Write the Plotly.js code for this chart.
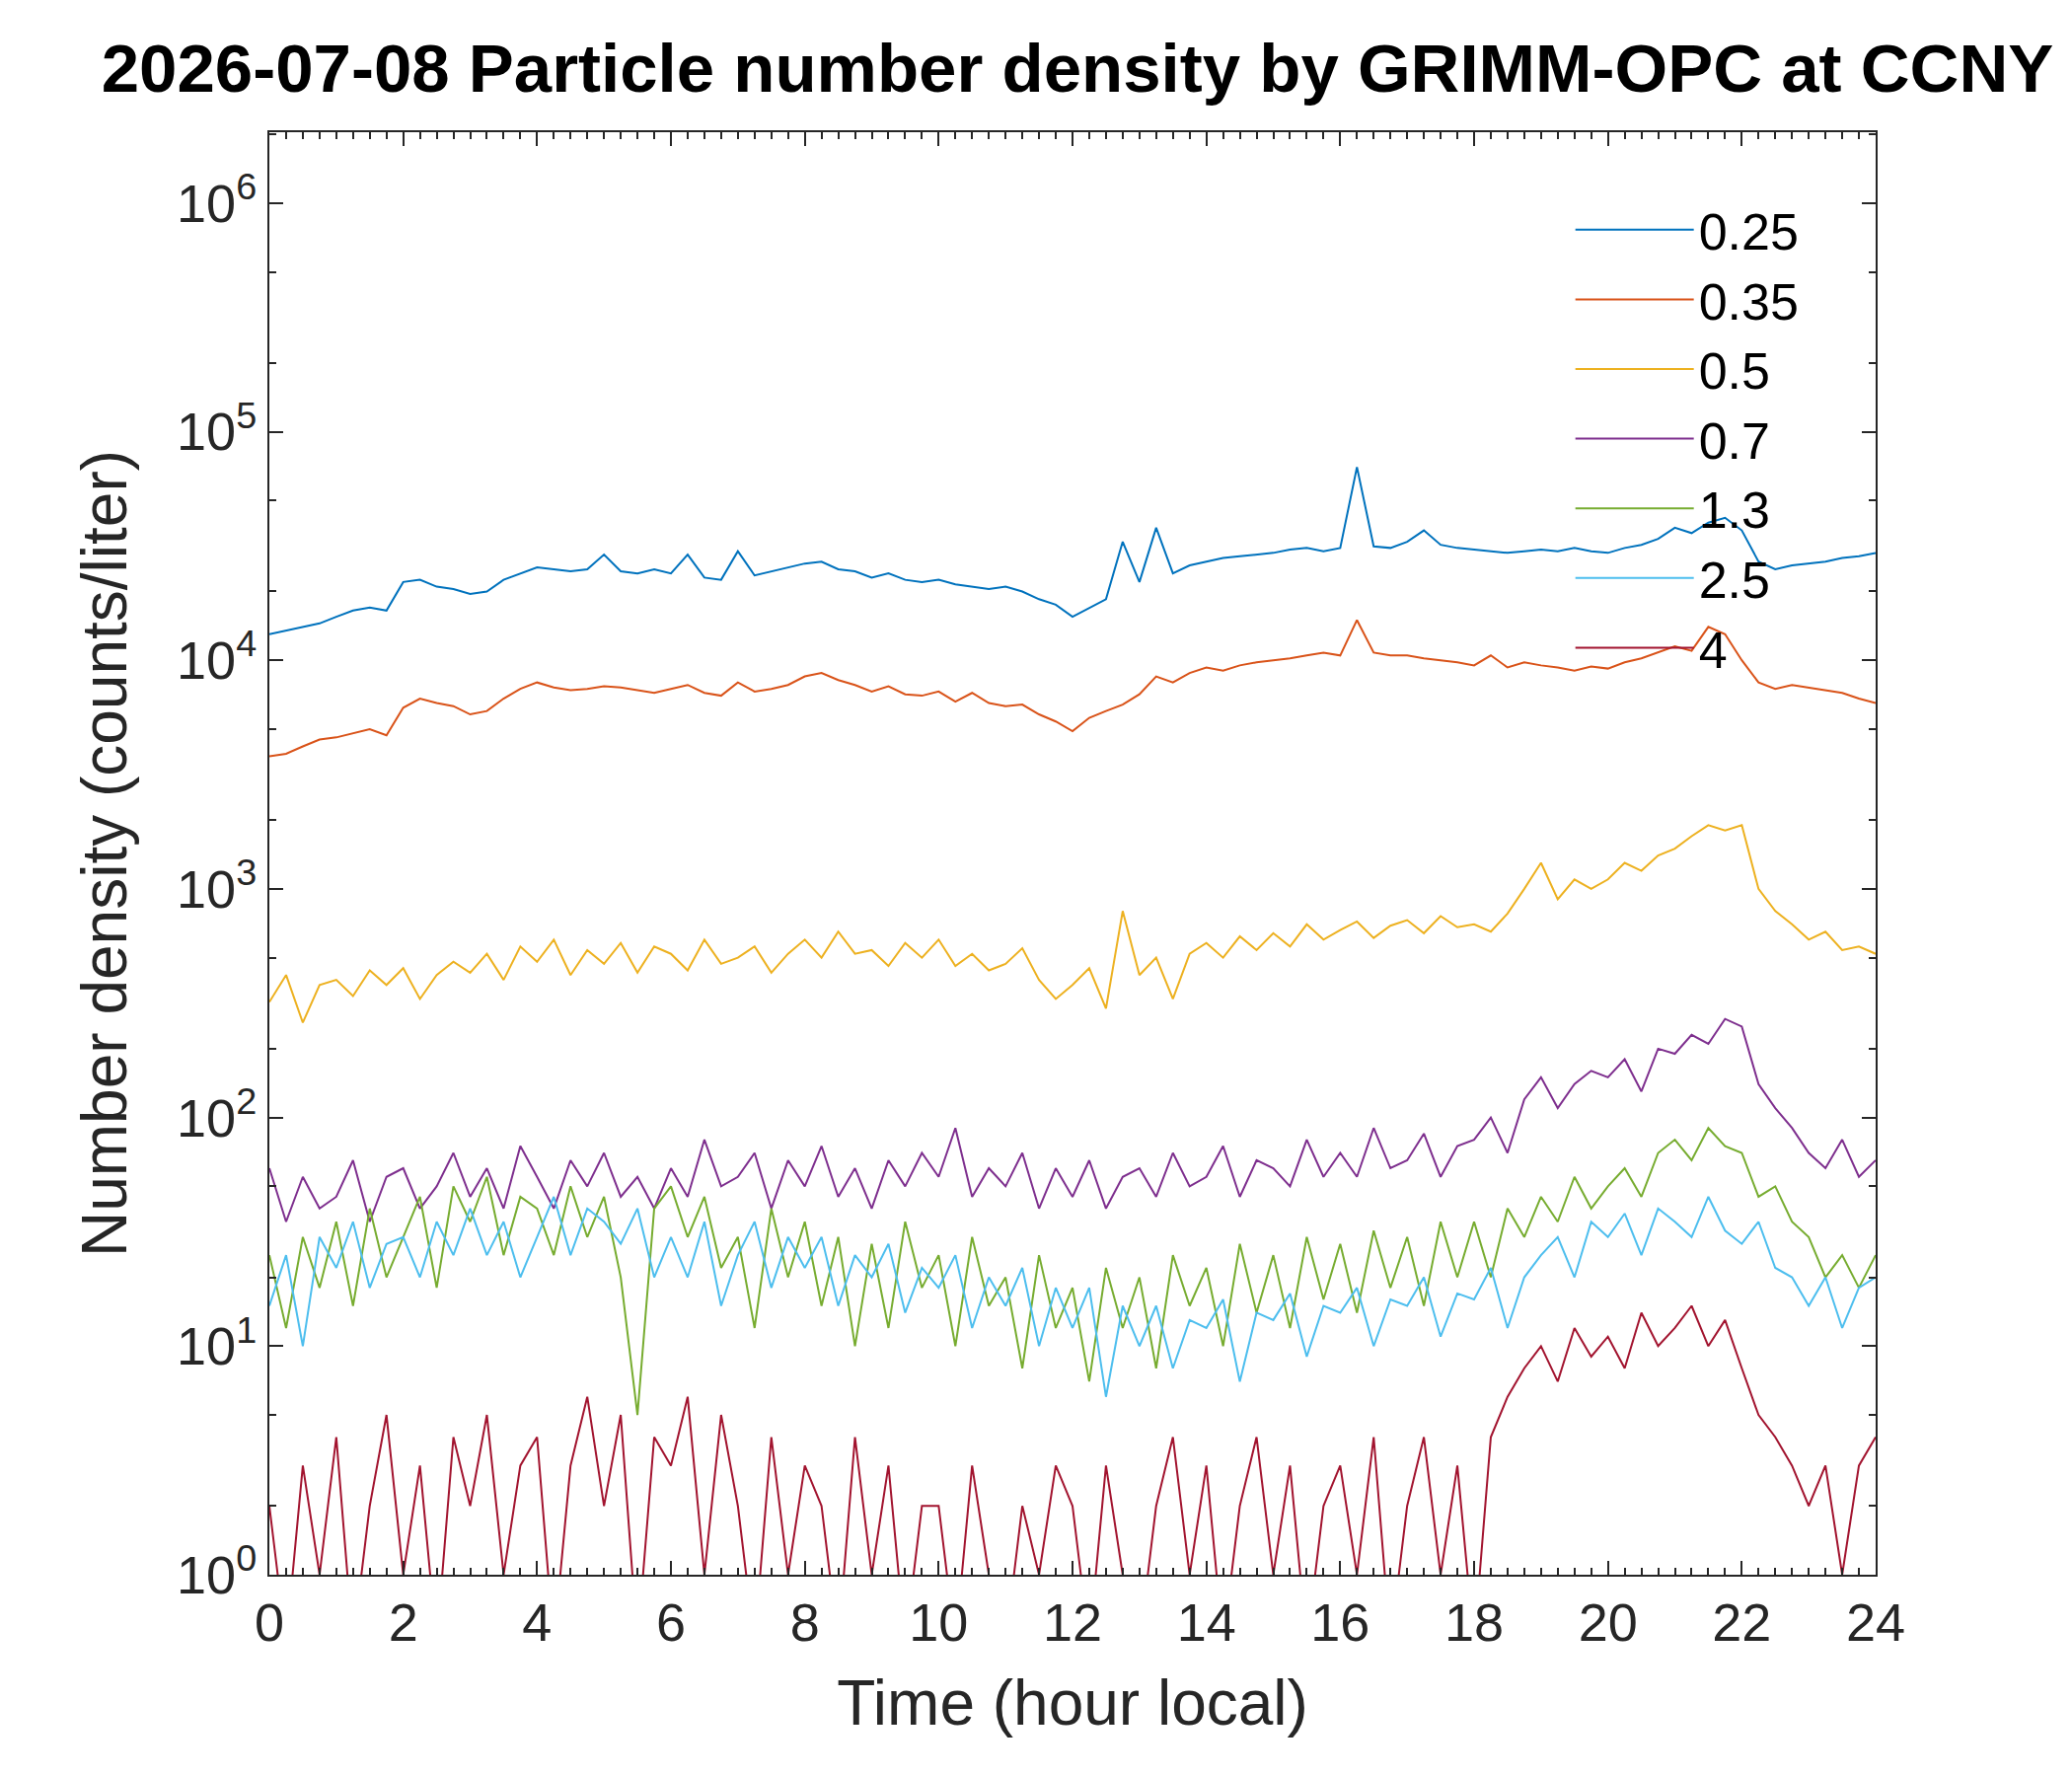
<!DOCTYPE html>
<html>
<head>
<meta charset="utf-8">
<script src="https://cdn.plot.ly/plotly-3.0.1.min.js"></script>
<style>body{margin:0;background:#fff}#plot{width:2100px;height:1800px}</style>
</head>
<body>
<div id="plot"></div>
<script>
// Particle number density, 15-minute samples (0 counts drawn as 0.5, below axis)
const sizeLabels = ['0.25', '0.35', '0.5', '0.7', '1.3', '2.5', '4'];
const colors = ['#0072BD', '#D95319', '#EDB120', '#7E2F8E', '#77AC30', '#4DBEEE', '#A2142F'];

const d025 = [13000,13500,14000,14500, 15500,16500,17000,16500, 22000,22500,21000,20500, 19500,20000,22500,24000,
  25500,25000,24500,25000, 29000,24500,24000,25000, 24000,29000,23000,22500, 30000,23500,24500,25500,
  26500,27000,25000,24500, 23000,24000,22500,22000, 22500,21500,21000,20500, 21000,20000,18500,17500,
  15500,17000,18500,33000, 22000,38000,24000,26000, 27000,28000,28500,29000, 29500,30500,31000,30000,
  31000,70000,31500,31000, 33000,37000,32000,31000, 30500,30000,29500,30000, 30500,30000,31000,30000,
  29500,31000,32000,34000, 38000,36000,40000,42000, 37000,27000,25000,26000, 26500,27000,28000,28500, 29500];
const d035 = [3800,3900,4200,4500, 4600,4800,5000,4700, 6200,6800,6500,6300, 5800,6000,6800,7500,
  8000,7600,7400,7500, 7700,7600,7400,7200, 7500,7800,7200,7000, 8000,7300,7500,7800,
  8500,8800,8200,7800, 7300,7700,7100,7000, 7300,6600,7200,6500, 6300,6400,5800,5400,
  4900,5600,6000,6400, 7100,8500,8000,8800, 9300,9000,9500,9800, 10000,10200,10500,10800,
  10500,15000,10800,10500, 10500,10200,10000,9800, 9500,10500,9300,9800, 9500,9300,9000,9400,
  9200,9800,10200,10800, 11500,11000,14000,13000, 10000,8000,7500,7800, 7600,7400,7200,6800, 6500];
const d05 = [320,420,260,380, 400,340,440,380, 450,330,420,480, 430,520,400,560,
  480,600,420,540, 470,580,430,560, 520,440,600,470, 500,560,430,520,
  600,500,650,520, 540,460,580,500, 600,460,520,440, 470,550,400,330,
  380,450,300,800, 420,500,330,520, 580,500,620,540, 640,560,700,600,
  660,720,610,690, 730,640,760,680, 700,650,780,1000, 1300,900,1100,1000,
  1100,1300,1200,1400, 1500,1700,1900,1800, 1900,1000,800,700, 600,650,540,560, 520];
const d07 = [60,35,55,40, 45,65,35,55, 60,40,50,70, 45,60,40,75,
  55,40,65,50, 70,45,55,40, 60,45,80,50, 55,70,40,65,
  50,75,45,60, 40,65,50,70, 55,90,45,60, 50,70,40,60,
  45,65,40,55, 60,45,70,50, 55,75,45,65, 60,50,80,55,
  70,55,90,60, 65,85,55,75, 80,100,70,120, 150,110,140,160,
  150,180,130,200, 190,230,210,270, 250,140,110,90, 70,60,80,55, 65];
const d13 = [25,12,30,18, 35,15,40,20, 30,45,18,50, 35,55,25,45,
  40,25,50,30, 45,20,5,40, 50,30,45,22, 30,12,40,20,
  35,15,30,10, 28,12,35,18, 25,10,30,15, 20,8,25,12,
  18,7,22,12, 20,8,25,15, 22,10,28,14, 25,12,30,16,
  28,14,32,18, 30,15,35,20, 35,20,40,30, 45,35,55,40,
  50,60,45,70, 80,65,90,75, 70,45,50,35, 30,20,25,18, 25];
const d25 = [15,25,10,30, 22,35,18,28, 30,20,35,25, 40,25,35,20,
  30,45,25,40, 35,28,40,20, 30,20,35,15, 25,35,18,30,
  22,30,15,25, 20,28,14,22, 18,25,12,20, 15,22,10,18,
  12,18,6,15, 10,15,8,13, 12,16,7,14, 13,17,9,15,
  14,18,10,16, 15,20,11,17, 16,22,12,20, 25,30,20,35,
  30,38,25,40, 35,30,45,32, 28,35,22,20, 15,20,12,18, 20];
const d4 = [2,0.5,3,1, 4,0.5,2,5, 1,3,0.5,4, 2,5,1,3,
  4,0.5,3,6, 2,5,0.5,4, 3,6,1,5, 2,0.5,4,1,
  3,2,0.5,4, 1,3,0.5,2, 2,0.5,3,1, 0.5,2,1,3,
  2,0.5,3,1, 0.5,2,4,1, 3,0.5,2,4, 1,3,0.5,2,
  3,1,4,0.5, 2,4,1,3, 0.5,4,6,8, 10,7,12,9,
  11,8,14,10, 12,15,10,13, 8,5,4,3, 2,3,1,3, 4];

const series = [d025, d035, d05, d07, d13, d25, d4];
const hours = d025.map((_, i) => i * 0.25);

const traces = series.map((ys, k) => ({
    x: hours, y: ys, name: sizeLabels[k], type: 'scatter', mode: 'lines',
    line: { color: colors[k], width: 2 },
}));

const FONT = 'Liberation Sans, Arial, sans-serif';
const axisCommon = {
    showline: true, linecolor: '#262626', linewidth: 2, mirror: 'ticks',
    ticks: 'inside', ticklen: 14, tickwidth: 2, tickcolor: '#262626',
    showgrid: false, zeroline: false,
    tickfont: { family: FONT, size: 54, color: '#262626' },
};

const layout = {
    width: 2100, height: 1800,
    paper_bgcolor: '#fff', plot_bgcolor: '#fff',
    margin: { l: 273, r: 199, t: 134, b: 204 },
    title: { text: '<b>2026-07-08 Particle number density by GRIMM-OPC at CCNY</b>',
             font: { family: FONT, size: 69, color: '#000' }, x: 0.52, xanchor: 'center', y: 0.962, yanchor: 'middle' },
    xaxis: { ...axisCommon, range: [0, 24], tickvals: [0,2,4,6,8,10,12,14,16,18,20,22,24],
             minor: { dtick: 0.25, ticks: 'inside', ticklen: 7, tickcolor: '#262626' },
             title: { text: 'Time (hour local)', font: { family: FONT, size: 64, color: '#262626' }, standoff: 30 } },
    yaxis: { ...axisCommon, type: 'log', range: [0, 6.31],
             tickvals: [1, 10, 100, 1000, 1e4, 1e5, 1e6],
             ticktext: ['10<sup>0</sup>','10<sup>1</sup>','10<sup>2</sup>','10<sup>3</sup>','10<sup>4</sup>','10<sup>5</sup>','10<sup>6</sup>'],
             minor: { ticks: 'inside', ticklen: 7, tickcolor: '#262626' },
             title: { text: 'Number density (counts/liter)', font: { family: FONT, size: 64, color: '#262626' }, standoff: 30 } },
    legend: { x: 0.81, y: 0.96, xanchor: 'left', yanchor: 'top', bgcolor: 'rgba(0,0,0,0)',
              font: { family: FONT, size: 52, color: '#000' }, itemwidth: 120, tracegroupgap: 0 },
    showlegend: true,
};

Plotly.newPlot('plot', traces, layout, { displayModeBar: false, staticPlot: true });
</script>
</body>
</html>
